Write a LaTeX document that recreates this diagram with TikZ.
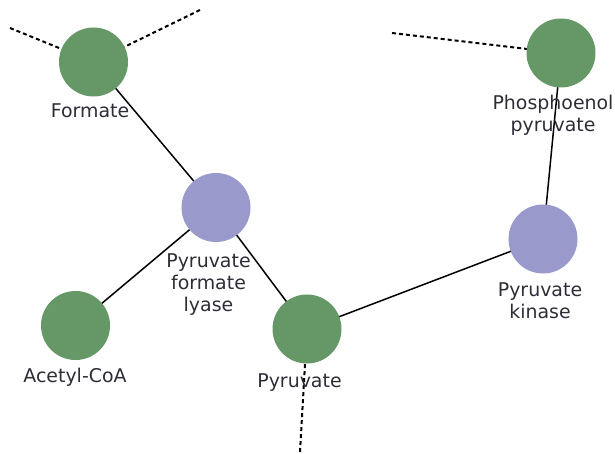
\documentclass[tikz,border=0pt]{standalone}
\usepackage{fontspec}
\setmainfont{DejaVu Sans}
\definecolor{metab}{RGB}{101,152,102}
\definecolor{enzyme}{RGB}{153,153,204}
\definecolor{labeltext}{RGB}{45,45,55}
\begin{document}
\begin{tikzpicture}[x=1bp,y=-1bp,
  compound/.style={circle,fill=metab,minimum size=69bp,inner sep=0pt},
  enzymenode/.style={circle,fill=enzyme,minimum size=69bp,inner sep=0pt},
  lbl/.style={anchor=base,align=center,text=labeltext,inner sep=0pt,
    font=\fontsize{19}{22}\selectfont},
  link/.style={draw=black,line width=1.5bp},
  open/.style={draw=black,line width=2bp,dash pattern=on 4bp off 3bp}]
\useasboundingbox (0,0) rectangle (615,454);
% node positions
\coordinate (formate) at (93.5,62);
\coordinate (pep)     at (561,53);
\coordinate (pfl)     at (216,207.5);
\coordinate (pk)      at (543,239);
\coordinate (acoa)    at (75.5,325.5);
\coordinate (pyr)     at (307,329);
% loose ends of the network
\coordinate (fl) at (10,28);
\coordinate (fr) at (200,10);
\coordinate (pl) at (392,33);
\coordinate (pd) at (300,452);
% connectors, drawn first so the circles cover their ends
\path[link] (formate) -- (pfl);
\path[link] (pfl) -- (acoa);
\path[link] (pfl) -- (pyr);
\path[link] (pyr) -- (pk);
\path[link] (pk) -- (pep);
\path[open] (fl) -- (formate);
\path[open] (fr) -- (formate);
\path[open] (pl) -- (pep);
\path[open] (pd) -- (pyr);
% circles
\node[compound]   (formateC) at (formate) {};
\node[compound]   (pepC)     at (pep) {};
\node[enzymenode] (pflC)     at (pfl) {};
\node[enzymenode] (pkC)      at (pk) {};
\node[compound]   (acoaC)    at (acoa) {};
\node[compound]   (pyrC)     at (pyr) {};
% labels (anchored at the baseline of their last line)
\node[lbl] (formateL) at (90,118)    {Formate};
\node[lbl] (pepL)     at (553,131.5) {Phosphoenol\\pyruvate};
\node[lbl] (pflL)     at (208.5,311) {Pyruvate\\formate\\lyase};
\node[lbl] (pkL)      at (540,318)   {Pyruvate\\kinase};
\node[lbl] (acoaL)    at (75,382)    {Acetyl-CoA};
\node[lbl] (pyrL)     at (299.5,387) {Pyruvate};
\end{tikzpicture}
\end{document}
